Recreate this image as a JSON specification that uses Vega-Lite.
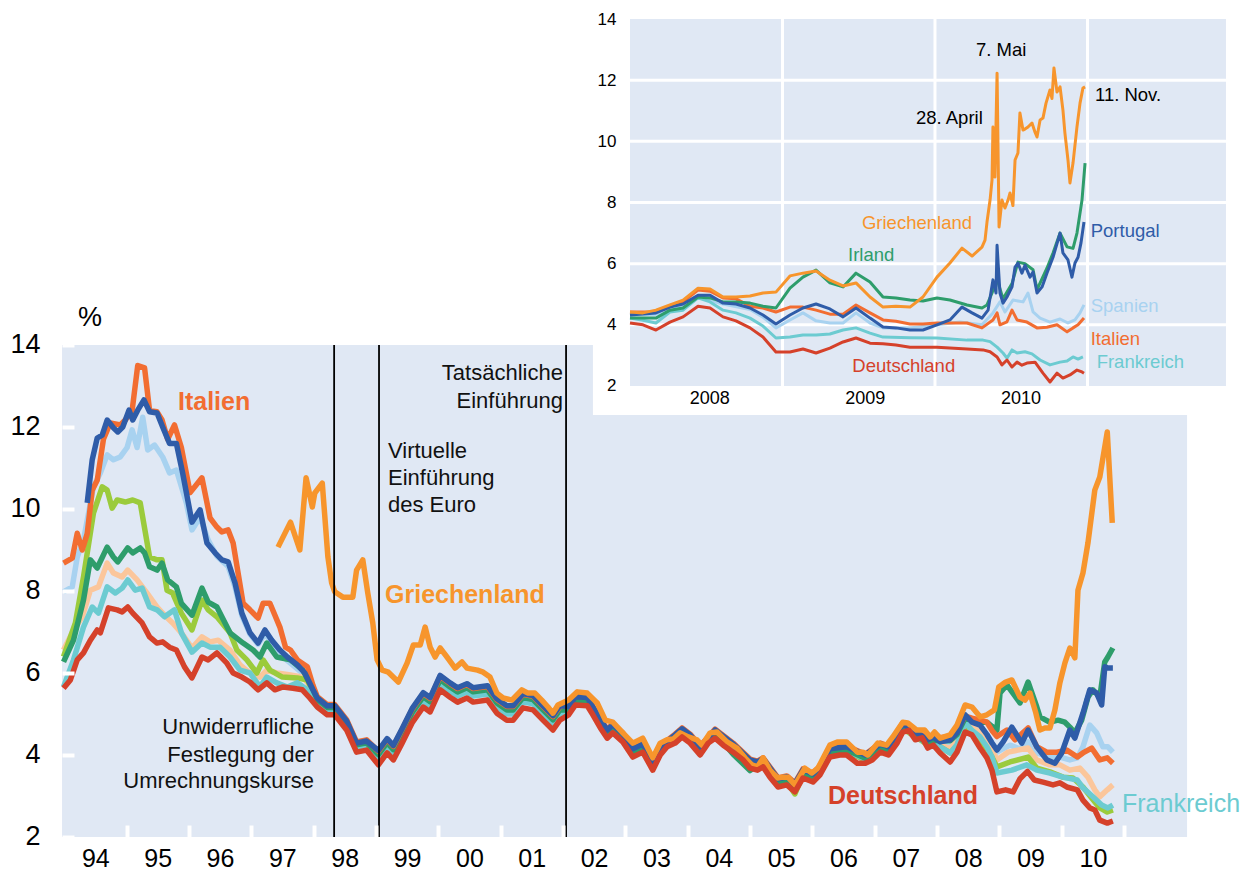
{
"$schema": "https://vega.github.io/schema/vega-lite/v6.json",
"width": 1252, "height": 872, "autosize": {"type": "none"}, "padding": 0,
"background": "#ffffff",
"config": {"view": {"stroke": null}, "font": "Liberation Sans", "axis": {"grid": false, "title": null}},
"datasets": {
"main": [
{"c":"ES","t":[1993.99,1994.13,1994.21,1994.31,1994.47,1994.58,1994.69,1994.79,1994.9,1995.01,1995.09,1995.17,1995.26,1995.34,1995.45,1995.58,1995.69,1995.8,1995.96,1996.05,1996.18,1996.31,1996.45,1996.63,1996.74,1996.85,1996.98,1997.11,1997.22,1997.33,1997.46,1997.58,1997.74,1997.86,1997.99],"v":[7.98,8.1,8.83,9.24,10.54,10.88,11.32,11.2,11.27,11.5,11.93,11.5,12.24,11.44,11.56,11.27,10.88,10.95,10.15,9.49,9.8,9.24,8.85,8.6,8.1,7.4,6.95,6.7,6.95,6.75,6.5,6.3,6.1,5.95,5.55]},
{"c":"ES","t":[1998.06,1998.22,1998.34,1998.53,1998.69,1998.85,1999.04,1999.18,1999.28,1999.42,1999.58,1999.76,1999.87,2000.03,2000.19,2000.31,2000.46,2000.56,2000.79,2000.94,2001.1,2001.2,2001.36,2001.52,2001.68,2001.84,2001.95,2002.09,2002.2,2002.39,2002.6,2002.71,2002.8,2002.96,2003.12,2003.28,2003.44,2003.56,2003.8,2003.91,2004.04,2004.2,2004.44,2004.73,2005.0,2005.12,2005.21,2005.45,2005.59,2005.72,2005.85,2006.01,2006.12,2006.28,2006.55,2006.85,2007.09,2007.22,2007.45,2007.65,2007.85,2007.94],"v":[5.37,5.18,5.18,4.81,4.27,4.32,4.06,4.35,4.18,4.59,5.08,5.47,5.35,5.89,5.71,5.59,5.69,5.59,5.64,5.32,5.15,5.15,5.45,5.4,5.15,4.91,5.15,5.13,5.37,5.35,4.81,4.56,4.69,4.47,4.1,4.22,3.78,4.15,4.44,4.59,4.44,4.15,4.56,4.22,3.83,3.78,3.86,3.37,3.42,3.25,3.59,3.49,3.66,4.1,4.15,3.95,4.22,4.15,4.71,4.52,4.32,4.39]},
{"c":"ES","t":[2008.05,2008.21,2008.32,2008.45,2008.56,2008.69,2008.8,2008.88,2008.96,2009.17,2009.33,2009.46,2009.6,2009.81,2009.97,2010.13,2010.25,2010.34,2010.45,2010.56,2010.66,2010.74,2010.82],"v":[4.3,4.28,4.45,4.85,4.75,4.6,4.4,4.25,4.07,4.24,4.15,4.32,4.05,3.95,3.95,3.88,3.93,4.2,4.73,4.54,4.2,4.2,4.07]},
{"c":"BE","t":[1993.99,1994.13,1994.29,1994.42,1994.55,1994.69,1994.79,1994.93,1995.02,1995.17,1995.33,1995.49,1995.61,1995.74,1995.88,1996.05,1996.21,1996.34,1996.47,1996.66,1996.82,1996.98,1997.14,1997.25,1997.41,1997.63,1997.83,1997.99],"v":[6.56,6.98,7.37,8.02,8.1,8.68,8.44,8.34,8.51,8.27,7.95,7.61,7.41,7.22,6.98,6.61,6.88,6.76,6.8,6.56,6.2,6.0,5.9,6.07,6.0,5.95,5.9,5.6]},
{"c":"BE","t":[1998.06,1998.22,1998.34,1998.53,1998.69,1998.85,1999.04,1999.18,1999.28,1999.42,1999.58,1999.76,1999.87,2000.03,2000.19,2000.31,2000.46,2000.56,2000.79,2000.94,2001.1,2001.2,2001.36,2001.52,2001.68,2001.84,2001.95,2002.09,2002.2,2002.39,2002.6,2002.71,2002.8,2002.96,2003.12,2003.28,2003.44,2003.56,2003.8,2003.91,2004.04,2004.2,2004.44,2004.73,2005.0,2005.12,2005.21,2005.45,2005.59,2005.72,2005.85,2006.01,2006.12,2006.28,2006.55,2006.85,2007.09,2007.22,2007.45,2007.65,2007.85,2007.94],"v":[5.32,5.13,5.13,4.76,4.22,4.27,3.98,4.27,4.1,4.51,5.0,5.39,5.27,5.81,5.63,5.51,5.61,5.51,5.56,5.24,5.07,5.07,5.37,5.32,5.07,4.83,5.07,5.12,5.36,5.34,4.8,4.55,4.68,4.46,4.09,4.21,3.77,4.14,4.43,4.58,4.43,4.14,4.55,4.21,3.82,3.77,3.85,3.36,3.41,3.24,3.58,3.48,3.65,4.09,4.14,3.94,4.21,4.14,4.7,4.51,4.31,4.38]},
{"c":"BE","t":[2008.05,2008.21,2008.32,2008.45,2008.56,2008.69,2008.8,2008.88,2008.96,2009.14,2009.46,2009.6,2009.81,2009.97,2010.13,2010.29,2010.42,2010.53,2010.61,2010.73,2010.82],"v":[4.25,4.15,4.35,4.85,4.7,4.55,4.35,4.15,3.88,4.07,4.17,3.88,3.76,3.76,3.63,3.68,3.46,3.15,2.98,3.15,3.27]},
{"c":"FI","t":[1993.99,1994.18,1994.31,1994.47,1994.61,1994.69,1994.77,1994.85,1994.98,1995.1,1995.22,1995.37,1995.49,1995.57,1995.65,1995.74,1995.88,1996.05,1996.21,1996.31,1996.45,1996.66,1996.77,1996.93,1997.09,1997.19,1997.3,1997.5,1997.74,1997.9],"v":[6.4,7.22,8.34,9.9,10.54,10.46,10.02,10.22,10.17,10.22,10.15,8.83,8.76,8.76,8.02,7.95,7.46,7.05,7.78,7.54,7.37,6.98,6.56,6.32,6.0,6.32,6.07,5.9,5.88,5.83]},
{"c":"FI","t":[1998.06,1998.22,1998.34,1998.53,1998.69,1998.85,1999.04,1999.18,1999.28,1999.42,1999.58,1999.76,1999.87,2000.03,2000.19,2000.31,2000.46,2000.56,2000.79,2000.94,2001.1,2001.2,2001.36,2001.52,2001.68,2001.84,2001.95,2002.09,2002.2,2002.39,2002.6,2002.71,2002.8,2002.96,2003.12,2003.28,2003.44,2003.56,2003.8,2003.91,2004.04,2004.2,2004.44,2004.73,2005.0,2005.12,2005.21,2005.45,2005.59,2005.72,2005.85,2006.01,2006.12,2006.28,2006.55,2006.85,2007.09,2007.22,2007.45,2007.65,2007.85,2007.94],"v":[5.29,5.1,5.1,4.73,4.19,4.24,3.96,4.25,4.08,4.49,4.98,5.37,5.25,5.79,5.61,5.49,5.59,5.49,5.54,5.22,5.05,5.05,5.35,5.3,5.05,4.81,5.05,5.06,5.3,5.28,4.74,4.49,4.62,4.4,4.03,4.15,3.71,4.08,4.37,4.52,4.37,4.08,4.49,4.15,3.76,3.71,3.79,3.3,3.35,3.05,3.52,3.42,3.59,4.03,4.08,3.88,4.15,4.08,4.64,4.45,4.25,4.32]},
{"c":"FI","t":[2008.05,2008.21,2008.32,2008.45,2008.56,2008.69,2008.8,2008.88,2008.96,2009.17,2009.46,2009.6,2009.81,2010.02,2010.18,2010.34,2010.48,2010.61,2010.73,2010.82],"v":[4.2,4.05,4.22,4.7,4.55,4.4,4.15,3.95,3.71,3.83,3.95,3.68,3.59,3.46,3.44,3.22,2.95,2.71,2.61,2.66]},
{"c":"FR","t":[1993.99,1994.15,1994.31,1994.45,1994.55,1994.69,1994.82,1994.93,1995.02,1995.14,1995.25,1995.37,1995.49,1995.61,1995.77,1995.88,1996.05,1996.21,1996.34,1996.5,1996.66,1996.82,1996.98,1997.14,1997.25,1997.41,1997.58,1997.74,1997.9,1997.99],"v":[5.66,6.32,7.12,7.61,7.46,8.1,7.95,8.07,8.27,8.02,8.07,7.61,7.54,7.37,7.54,6.98,6.51,6.73,6.63,6.63,6.39,6.07,6.0,5.66,5.9,5.76,5.66,5.76,5.59,5.4]},
{"c":"FR","t":[1998.06,1998.22,1998.34,1998.53,1998.69,1998.85,1999.04,1999.18,1999.28,1999.42,1999.58,1999.76,1999.87,2000.03,2000.19,2000.31,2000.46,2000.56,2000.79,2000.94,2001.1,2001.2,2001.36,2001.52,2001.68,2001.84,2001.95,2002.09,2002.2,2002.39,2002.6,2002.71,2002.8,2002.96,2003.12,2003.28,2003.44,2003.56,2003.8,2003.91,2004.04,2004.2,2004.44,2004.73,2005.0,2005.12,2005.21,2005.45,2005.59,2005.72,2005.85,2006.01,2006.12,2006.28,2006.55,2006.85,2007.09,2007.22,2007.45,2007.65,2007.85,2007.94],"v":[5.27,5.08,5.08,4.71,4.17,4.22,3.91,4.2,4.03,4.44,4.93,5.32,5.2,5.74,5.56,5.44,5.54,5.44,5.49,5.17,5.0,5.0,5.3,5.25,5.0,4.76,5.0,5.08,5.32,5.3,4.76,4.51,4.64,4.42,4.05,4.17,3.73,4.1,4.39,4.54,4.39,4.1,4.51,4.17,3.78,3.73,3.81,3.32,3.37,3.2,3.54,3.44,3.61,4.05,4.1,3.9,4.17,4.1,4.66,4.47,4.27,4.34]},
{"c":"FR","t":[2008.05,2008.21,2008.32,2008.45,2008.56,2008.69,2008.8,2008.88,2008.96,2009.2,2009.44,2009.6,2009.81,2010.02,2010.25,2010.34,2010.5,2010.64,2010.74,2010.82],"v":[4.2,4.05,4.25,4.8,4.6,4.44,4.2,3.95,3.56,3.63,3.76,3.63,3.56,3.46,3.39,3.2,2.98,2.78,2.71,2.78]},
{"c":"IE","t":[1993.99,1994.15,1994.31,1994.42,1994.53,1994.69,1994.79,1994.86,1995.02,1995.1,1995.22,1995.29,1995.37,1995.49,1995.57,1995.66,1995.8,1995.88,1996.05,1996.21,1996.31,1996.45,1996.66,1996.87,1997.03,1997.14,1997.25,1997.41,1997.63,1997.83,1997.99],"v":[6.27,6.8,7.78,8.76,8.56,9.07,8.83,8.71,9.05,8.93,9.05,8.93,8.59,8.51,8.68,8.27,8.1,7.7,7.41,8.07,7.73,7.61,6.98,6.73,6.56,6.39,6.73,6.39,6.32,6.07,5.6]},
{"c":"IE","t":[1998.06,1998.22,1998.34,1998.53,1998.69,1998.85,1999.04,1999.18,1999.28,1999.42,1999.58,1999.76,1999.87,2000.03,2000.19,2000.31,2000.46,2000.56,2000.79,2000.94,2001.1,2001.2,2001.36,2001.52,2001.68,2001.84,2001.95,2002.09,2002.2,2002.39,2002.6,2002.71,2002.8,2002.96,2003.12,2003.28,2003.44,2003.56,2003.8,2003.91,2004.04,2004.2,2004.44,2004.73,2005.0,2005.12,2005.21,2005.45,2005.59,2005.72,2005.85,2006.01,2006.12,2006.28,2006.55,2006.85,2007.09,2007.22,2007.45,2007.65,2007.85,2007.94],"v":[5.35,5.16,5.16,4.79,4.25,4.3,4.01,4.3,4.13,4.54,5.03,5.42,5.3,5.84,5.66,5.54,5.64,5.54,5.59,5.27,5.1,5.1,5.4,5.35,5.1,4.86,5.1,5.1,5.34,5.32,4.78,4.53,4.66,4.44,4.07,4.19,3.75,4.12,4.41,4.56,4.41,4.12,4.53,4.02,3.62,3.75,3.83,3.34,3.39,3.22,3.56,3.46,3.63,4.07,4.12,3.92,4.19,4.12,4.68,4.49,4.29,4.36]},
{"c":"IE","t":[2008.05,2008.21,2008.32,2008.45,2008.56,2008.69,2008.8,2008.88,2008.96,2009.01,2009.12,2009.33,2009.46,2009.6,2009.65,2009.81,2009.94,2010.05,2010.13,2010.21,2010.32,2010.42,2010.5,2010.61,2010.69,2010.74,2010.82],"v":[4.35,4.35,4.5,4.9,4.85,4.8,4.8,4.7,4.61,5.51,5.71,5.27,5.78,5.17,4.93,4.8,4.85,4.8,4.68,4.54,4.85,5.41,5.59,5.41,6.27,6.39,6.61]},
{"c":"IT","t":[1993.99,1994.13,1994.21,1994.29,1994.37,1994.45,1994.53,1994.63,1994.74,1994.9,1994.98,1995.09,1995.18,1995.29,1995.37,1995.49,1995.57,1995.66,1995.77,1995.88,1996.02,1996.21,1996.34,1996.45,1996.53,1996.63,1996.71,1996.87,1996.98,1997.11,1997.19,1997.3,1997.46,1997.55,1997.63,1997.74,1997.9,1997.99],"v":[8.68,8.8,9.41,9.0,9.4,10.46,10.7,11.7,12.1,12.05,12.17,12.4,13.5,13.44,12.4,12.37,12.17,11.7,12.05,11.5,10.4,10.76,9.78,9.56,9.44,9.49,9.17,7.7,7.54,7.34,7.7,7.7,7.12,6.63,6.56,6.32,6.15,5.7]},
{"c":"IT","t":[1998.06,1998.22,1998.34,1998.53,1998.69,1998.85,1999.04,1999.18,1999.28,1999.42,1999.58,1999.76,1999.87,2000.03,2000.19,2000.31,2000.46,2000.56,2000.79,2000.94,2001.1,2001.2,2001.36,2001.52,2001.68,2001.84,2001.95,2002.09,2002.2,2002.39,2002.6,2002.71,2002.8,2002.96,2003.12,2003.28,2003.44,2003.56,2003.8,2003.91,2004.04,2004.2,2004.44,2004.73,2005.0,2005.12,2005.21,2005.45,2005.59,2005.72,2005.85,2006.01,2006.12,2006.28,2006.55,2006.85,2007.09,2007.22,2007.45,2007.65,2007.85,2007.94],"v":[5.42,5.23,5.23,4.86,4.32,4.37,4.09,4.38,4.21,4.62,5.11,5.5,5.38,5.92,5.74,5.62,5.72,5.62,5.67,5.35,5.18,5.18,5.48,5.43,5.18,4.94,5.18,5.2,5.44,5.42,4.88,4.63,4.76,4.54,4.17,4.29,3.85,4.22,4.51,4.66,4.51,4.22,4.63,4.29,3.9,3.85,3.93,3.44,3.49,3.32,3.66,3.56,3.73,4.17,4.22,4.02,4.29,4.22,4.78,4.59,4.39,4.46]},
{"c":"IT","t":[2008.05,2008.21,2008.32,2008.45,2008.56,2008.69,2008.8,2008.88,2008.96,2009.12,2009.25,2009.46,2009.6,2009.76,2009.92,2010.08,2010.25,2010.34,2010.48,2010.61,2010.73,2010.82],"v":[4.42,4.45,4.6,4.95,4.9,4.85,4.8,4.6,4.45,4.61,4.37,4.66,4.2,4.07,4.07,4.12,3.95,4.05,4.17,3.88,3.93,3.8]},
{"c":"PT","t":[1994.37,1994.45,1994.53,1994.61,1994.69,1994.79,1994.86,1994.94,1995.04,1995.1,1995.18,1995.28,1995.37,1995.49,1995.58,1995.69,1995.8,1995.9,1996.05,1996.18,1996.29,1996.42,1996.53,1996.63,1996.74,1996.85,1996.98,1997.11,1997.22,1997.33,1997.46,1997.58,1997.74,1997.86,1997.99],"v":[10.15,11.2,11.73,11.8,12.17,11.98,11.88,12.0,12.41,12.17,12.41,12.66,12.37,12.34,12.0,11.6,11.6,10.88,9.68,9.98,9.17,8.93,8.76,8.71,8.2,7.46,6.98,6.73,7.05,6.8,6.56,6.39,6.2,6.0,5.59]},
{"c":"PT","t":[1998.06,1998.22,1998.34,1998.53,1998.69,1998.85,1999.04,1999.18,1999.28,1999.42,1999.58,1999.76,1999.87,2000.03,2000.19,2000.31,2000.46,2000.56,2000.79,2000.94,2001.1,2001.2,2001.36,2001.52,2001.68,2001.84,2001.95,2002.09,2002.2,2002.39,2002.6,2002.71,2002.8,2002.96,2003.12,2003.28,2003.44,2003.56,2003.8,2003.91,2004.04,2004.2,2004.44,2004.73,2005.0,2005.12,2005.21,2005.45,2005.59,2005.72,2005.85,2006.01,2006.12,2006.28,2006.55,2006.85,2007.09,2007.22,2007.45,2007.65,2007.85,2007.94],"v":[5.39,5.2,5.2,4.83,4.29,4.34,4.11,4.4,4.23,4.64,5.13,5.52,5.4,5.94,5.76,5.64,5.74,5.64,5.69,5.37,5.2,5.2,5.5,5.45,5.2,4.96,5.2,5.18,5.42,5.4,4.86,4.61,4.74,4.52,4.15,4.27,3.83,4.2,4.49,4.64,4.49,4.2,4.61,4.27,3.88,3.83,3.91,3.42,3.47,3.3,3.64,3.54,3.71,4.15,4.2,4.0,4.27,4.2,4.76,4.57,4.37,4.44]},
{"c":"PT","t":[2008.05,2008.21,2008.32,2008.45,2008.56,2008.69,2008.8,2008.88,2008.96,2009.06,2009.2,2009.36,2009.46,2009.6,2009.76,2009.89,2010.0,2010.13,2010.21,2010.34,2010.45,2010.56,2010.64,2010.69,2010.74,2010.82],"v":[4.32,4.37,4.54,4.98,4.8,4.73,4.5,4.3,4.12,4.32,4.68,4.29,4.61,4.2,3.88,3.8,4.05,4.61,4.41,5.02,5.59,5.51,5.22,6.15,6.12,6.12]},
{"c":"GR","t":[1997.43,1997.63,1997.78,1997.88,1997.98,1998.02,1998.14,1998.23,1998.29,1998.34,1998.47,1998.63,1998.69,1998.79,1998.87,1998.95,1999.02,1999.1,1999.2,1999.36,1999.5,1999.6,1999.71,1999.79,1999.87,1999.95,2000.03,2000.14,2000.27,2000.38,2000.46,2000.63,2000.72,2000.83,2000.94,2001.04,2001.18,2001.34,2001.44,2001.55,2001.66,2001.76,2001.84,2001.92],"v":[9.07,9.68,9.0,10.76,10.05,10.39,10.63,8.83,8.2,7.98,7.85,7.85,8.51,8.76,7.95,7.22,6.32,6.07,6.02,5.78,6.24,6.68,6.68,7.12,6.63,6.39,6.61,6.39,6.12,6.27,6.12,6.07,6.02,5.9,5.51,5.39,5.34,5.59,5.51,5.51,5.34,5.17,5.02,5.22]},
{"c":"GR","t":[2002.09,2002.23,2002.39,2002.55,2002.68,2002.8,2002.96,2003.12,2003.28,2003.44,2003.56,2003.67,2003.77,2003.88,2004.01,2004.15,2004.23,2004.36,2004.47,2004.63,2004.79,2004.92,2005.03,2005.12,2005.21,2005.32,2005.44,2005.53,2005.61,2005.72,2005.88,2005.99,2006.09,2006.28,2006.41,2006.55,2006.72,2006.81,2006.89,2007.05,2007.19,2007.29,2007.45,2007.53,2007.67,2007.8,2007.89,2007.96],"v":[5.34,5.54,5.51,5.27,4.85,4.8,4.54,4.29,4.41,3.93,4.29,4.37,4.39,4.54,4.44,4.37,4.24,4.54,4.56,4.32,4.17,3.93,3.76,3.71,3.93,3.63,3.44,3.46,3.46,3.27,3.68,3.56,3.68,4.24,4.32,4.32,4.07,4.07,4.0,4.29,4.24,4.44,4.8,4.78,4.61,4.61,4.44,4.56]},
{"c":"GR","t":[2008.05,2008.21,2008.32,2008.45,2008.56,2008.69,2008.8,2008.92,2008.99,2009.1,2009.2,2009.33,2009.41,2009.49,2009.58,2009.65,2009.73,2009.81,2009.89,2009.97,2010.05,2010.13,2010.21,2010.26,2010.34,2010.42,2010.53,2010.61,2010.73,2010.81],"v":[4.41,4.49,4.73,5.22,5.17,4.93,4.98,5.1,5.66,5.78,5.83,5.41,5.34,5.51,5.05,4.61,4.66,4.66,5.1,5.76,6.24,6.61,6.37,8.02,8.44,9.17,10.46,10.78,11.88,9.66]},
{"c":"DE","t":[1993.99,1994.1,1994.21,1994.31,1994.42,1994.53,1994.58,1994.71,1994.85,1994.93,1995.02,1995.1,1995.25,1995.37,1995.49,1995.58,1995.69,1995.8,1995.93,1996.05,1996.21,1996.31,1996.45,1996.61,1996.71,1996.85,1996.98,1997.11,1997.25,1997.38,1997.51,1997.67,1997.82,1997.94],"v":[5.63,5.83,6.32,6.49,6.8,7.05,6.98,7.59,7.54,7.49,7.61,7.46,7.22,6.88,6.73,6.76,6.63,6.56,6.15,5.88,6.39,6.32,6.49,6.24,6.0,5.9,5.78,5.59,5.76,5.59,5.66,5.63,5.59,5.39]},
{"c":"DE","t":[1998.06,1998.22,1998.34,1998.53,1998.69,1998.85,1999.04,1999.18,1999.28,1999.42,1999.58,1999.76,1999.87,2000.03,2000.19,2000.31,2000.46,2000.56,2000.79,2000.94,2001.1,2001.2,2001.36,2001.52,2001.68,2001.84,2001.95,2002.09,2002.2,2002.39,2002.48,2002.6,2002.71,2002.8,2002.96,2003.12,2003.28,2003.44,2003.56,2003.67,2003.8,2003.91,2004.04,2004.2,2004.33,2004.44,2004.57,2004.73,2004.89,2005.0,2005.12,2005.21,2005.32,2005.45,2005.59,2005.72,2005.85,2006.01,2006.12,2006.28,2006.44,2006.55,2006.72,2006.85,2006.96,2007.09,2007.22,2007.36],"v":[5.17,4.98,4.98,4.61,4.07,4.12,3.76,4.05,3.88,4.29,4.78,5.17,5.05,5.59,5.41,5.29,5.39,5.29,5.34,5.02,4.85,4.85,5.15,5.1,4.85,4.61,4.85,4.98,5.22,5.2,4.98,4.66,4.41,4.54,4.32,3.95,4.07,3.63,4.0,4.2,4.29,4.44,4.29,4.0,4.29,4.41,4.24,4.07,3.88,3.68,3.63,3.71,3.46,3.22,3.27,3.1,3.44,3.34,3.51,3.95,4.0,4.0,3.8,3.8,3.88,4.07,4.0,4.29]},
{"c":"DE","t":[2007.45,2007.55,2007.65,2007.76,2007.85,2007.94,2008.05,2008.21,2008.32,2008.45,2008.56,2008.69,2008.8,2008.88,2008.96,2009.1,2009.22,2009.33,2009.45,2009.56,2009.7,2009.86,2009.97,2010.08,2010.25,2010.34,2010.45,2010.53,2010.61,2010.73,2010.82],"v":[4.56,4.6,4.37,4.42,4.17,4.24,4.05,3.83,4.07,4.56,4.49,4.17,3.93,3.63,3.1,3.15,3.1,3.42,3.6,3.39,3.34,3.27,3.32,3.22,3.15,2.9,2.71,2.66,2.41,2.34,2.39]}
],
"inset": [
{"c":"ES","t":[2008.0,2008.17,2008.348,2008.446,2008.61,2008.787,2008.872,2008.957,2009.049,2009.134,2009.22,2009.311,2009.397,2009.482,2009.574,2009.659,2009.836,2010.013,2010.164,2010.308,2010.38,2010.426,2010.459,2010.511,2010.577,2010.61,2010.643,2010.689,2010.754,2010.82,2010.872,2010.918,2010.951,2010.977],"v":[4.32,4.35,4.6,4.9,4.68,4.5,4.25,3.9,4.16,4.39,4.13,4.06,4.06,4.39,4.06,3.9,3.9,4.0,4.09,4.0,4.39,4.75,4.42,4.81,4.75,5.04,4.42,4.22,4.09,4.19,4.06,4.16,4.39,4.65]},
{"c":"FR","t":[2008.0,2008.085,2008.17,2008.262,2008.348,2008.446,2008.525,2008.61,2008.695,2008.787,2008.872,2008.957,2009.049,2009.134,2009.22,2009.311,2009.397,2009.482,2009.574,2009.659,2009.836,2010.013,2010.21,2010.315,2010.361,2010.407,2010.446,2010.472,2010.505,2010.538,2010.59,2010.636,2010.689,2010.754,2010.82,2010.866,2010.905,2010.938,2010.97],"v":[4.22,4.15,4.06,4.42,4.48,4.88,4.75,4.48,4.39,4.22,3.96,3.57,3.6,3.67,3.67,3.7,3.83,3.9,3.73,3.6,3.58,3.57,3.5,3.5,3.45,3.27,3.08,2.91,3.18,3.08,3.12,3.05,2.85,2.69,2.78,2.82,2.95,2.88,2.95]},
{"c":"IT","t":[2008.0,2008.17,2008.348,2008.446,2008.525,2008.61,2008.695,2008.787,2008.872,2008.957,2009.049,2009.134,2009.22,2009.311,2009.397,2009.482,2009.574,2009.659,2009.744,2009.836,2009.921,2010.013,2010.21,2010.308,2010.38,2010.407,2010.426,2010.472,2010.505,2010.538,2010.603,2010.669,2010.734,2010.8,2010.866,2010.905,2010.938,2010.977],"v":[4.42,4.42,4.75,5.14,5.1,4.88,4.85,4.61,4.55,4.42,4.58,4.58,4.48,4.35,4.35,4.65,4.39,4.16,4.12,4.03,4.03,4.06,4.06,3.9,4.16,4.39,4.0,4.1,4.48,4.16,4.09,3.9,3.92,4.0,3.77,3.9,4.0,4.22]},
{"c":"DE","t":[2008.0,2008.085,2008.17,2008.262,2008.348,2008.446,2008.525,2008.61,2008.695,2008.787,2008.872,2008.957,2009.049,2009.134,2009.22,2009.311,2009.397,2009.482,2009.574,2009.659,2009.744,2009.836,2010.013,2010.21,2010.315,2010.361,2010.407,2010.439,2010.472,2010.505,2010.538,2010.57,2010.603,2010.656,2010.708,2010.754,2010.8,2010.839,2010.885,2010.931,2010.964,2010.977],"v":[4.06,4.0,3.83,4.09,4.26,4.61,4.55,4.26,4.13,3.9,3.6,3.11,3.11,3.21,3.08,3.24,3.44,3.57,3.4,3.38,3.34,3.27,3.27,3.21,3.18,3.12,2.95,2.69,2.85,2.62,2.78,2.68,2.75,2.78,2.42,2.13,2.42,2.26,2.36,2.52,2.46,2.42]},
{"c":"IE","t":[2008.0,2008.17,2008.262,2008.348,2008.446,2008.525,2008.61,2008.695,2008.787,2008.872,2008.957,2009.049,2009.134,2009.22,2009.311,2009.397,2009.482,2009.574,2009.659,2009.744,2009.836,2009.921,2010.013,2010.098,2010.21,2010.308,2010.341,2010.374,2010.407,2010.446,2010.505,2010.544,2010.59,2010.643,2010.669,2010.734,2010.774,2010.82,2010.866,2010.905,2010.931,2010.964,2010.984],"v":[4.22,4.22,4.48,4.55,4.91,4.88,4.75,4.75,4.71,4.61,4.55,5.2,5.56,5.79,5.37,5.24,5.69,5.4,4.91,4.88,4.81,4.78,4.88,4.81,4.65,4.55,4.65,5.04,5.5,4.85,5.35,6.05,6.0,5.8,5.15,5.85,6.35,7.0,6.55,6.5,7.0,8.08,9.29]},
{"c":"PT","t":[2008.0,2008.17,2008.262,2008.348,2008.446,2008.525,2008.61,2008.695,2008.787,2008.872,2008.957,2009.049,2009.134,2009.22,2009.311,2009.397,2009.482,2009.574,2009.659,2009.744,2009.836,2009.921,2010.013,2010.098,2010.177,2010.243,2010.308,2010.348,2010.38,2010.4,2010.407,2010.426,2010.446,2010.472,2010.505,2010.525,2010.544,2010.57,2010.59,2010.623,2010.643,2010.669,2010.702,2010.734,2010.774,2010.82,2010.839,2010.872,2010.898,2010.918,2010.938,2010.957,2010.977],"v":[4.32,4.39,4.58,4.68,4.97,4.97,4.71,4.68,4.55,4.32,4.03,4.32,4.55,4.68,4.52,4.26,4.55,4.22,3.93,3.9,3.83,3.83,4.0,4.16,4.58,4.39,4.22,4.48,5.47,5.04,6.6,5.04,4.71,4.91,5.24,5.89,6.02,5.69,5.95,5.56,5.73,5.04,5.24,5.69,6.21,7.0,6.35,6.12,5.56,6.02,6.21,6.67,7.36]},
{"c":"GR","t":[2008.0,2008.085,2008.17,2008.262,2008.348,2008.446,2008.525,2008.61,2008.695,2008.787,2008.872,2008.957,2009.049,2009.134,2009.22,2009.311,2009.397,2009.482,2009.574,2009.659,2009.744,2009.836,2009.921,2010.013,2010.098,2010.177,2010.243,2010.308,2010.328,2010.341,2010.361,2010.374,2010.38,2010.393,2010.407,2010.42,2010.439,2010.459,2010.479,2010.492,2010.511,2010.525,2010.544,2010.557,2010.577,2010.59,2010.61,2010.636,2010.656,2010.669,2010.689,2010.708,2010.728,2010.754,2010.767,2010.78,2010.8,2010.82,2010.839,2010.852,2010.872,2010.885,2010.905,2010.931,2010.951,2010.97,2010.984],"v":[4.42,4.39,4.48,4.65,4.81,5.2,5.17,4.91,4.91,4.94,5.04,5.07,5.6,5.69,5.76,5.46,5.27,5.37,4.91,4.58,4.61,4.58,4.91,5.56,6.02,6.51,6.25,6.54,6.77,7.36,8.08,8.74,10.47,8.83,12.23,7.2,8.08,7.82,8.08,8.31,7.9,9.39,9.62,10.93,10.37,10.4,10.47,10.6,10.3,10.14,10.7,10.76,11.25,11.68,11.4,12.4,11.61,11.78,11.02,10.27,9.39,8.64,9.29,10.47,11.25,11.74,11.78]}
]
},
"layer": [
{
"encoding": {
"x": {"field": "t", "type": "quantitative", "scale": {"domain": [1992.9711, 2013.0513], "nice": false, "zero": false},
 "axis": {"orient": "bottom", "offset": -35, "values": [1995,1996,1997,1998,1999,2000,2001,2002,2003,2004,2005,2006,2007,2008,2009,2010,2011], "labelExpr": "slice(toString(datum.value - 1), 2)", "labelOffset": -31.2, "tickSize": -12, "tickColor": "#ffffff", "tickWidth": 4, "domain": false, "grid": false, "labelFontSize": 25, "labelColor": "#000000", "labelPadding": 21, "labelFlush": false, "labelOverlap": false, "zindex": 1, "title": null}},
"y": {"field": "v", "type": "quantitative", "scale": {"domain": [1.14634, 22.41463], "nice": false, "zero": false},
 "axis": {"orient": "left", "offset": -62, "values": [2,4,6,8,10,12,14], "tickSize": -12, "tickColor": "#ffffff", "tickWidth": 4, "domain": false, "grid": false, "labelFontSize": 27, "labelColor": "#000000", "labelPadding": 34, "labelFlush": false, "labelOverlap": false, "zindex": 1, "title": null}}
},
"layer": [
{"data": {"values": [{"t": 1993.966, "t2": 2012.01, "v": 2, "v2": 14}]}, "mark": {"type": "rect", "color": "#e0e8f4"}, "encoding": {"x2": {"field": "t2"}, "y2": {"field": "v2"}}},
{"data": {"name": "main"}, "transform": [{"flatten": ["t", "v"]}], "mark": {"type": "line", "strokeWidth": 5.5, "strokeJoin": "round"},
 "encoding": {"color": {"field": "c", "type": "nominal", "legend": null, "scale": {"domain": ["IT","PT","ES","GR","IE","FR","FI","BE","DE"], "range": ["#f26d31","#2f5ca8","#a8d2f0","#f7952c","#2e9d6b","#6ccbd1","#9bcb3c","#fbc69b","#d5412a"]}}}},
{"data": {"values": [{"t": 1998.33, "v": 2, "v2": 14}, {"t": 1999.05, "v": 2, "v2": 14}, {"t": 2002.05, "v": 2, "v2": 14}]}, "mark": {"type": "rule", "color": "#000000", "strokeWidth": 1.8}, "encoding": {"y2": {"field": "v2"}}},
{"data": {"values": [{"t": 1995.826, "v": 12.61, "label": "Italien", "c": "IT"}, {"t": 1999.146, "v": 7.9, "label": "Griechenland", "c": "GR"}, {"t": 2006.251, "v": 3.0, "label": "Deutschland", "c": "DE"}]},
 "mark": {"type": "text", "align": "left", "baseline": "middle", "fontSize": 25, "fontWeight": "bold"},
 "encoding": {"text": {"field": "label"}, "color": {"field": "c", "type": "nominal", "legend": null}}},
{"data": {"values": [{"t": 2010.966, "v": 2.805, "label": "Frankreich", "c": "FR"}]},
 "mark": {"type": "text", "align": "left", "baseline": "middle", "fontSize": 25},
 "encoding": {"text": {"field": "label"}, "color": {"field": "c", "type": "nominal", "legend": null}}},
{"data": {"values": [{"t": 2002.0, "v": 13.317, "label": "Tatsächliche"}, {"t": 2002.0, "v": 12.634, "label": "Einführung"}, {"t": 1998.007, "v": 4.683, "label": "Unwiderrufliche"}, {"t": 1998.007, "v": 4.0, "label": "Festlegung der"}, {"t": 1998.007, "v": 3.366, "label": "Umrechnungskurse"}]},
 "mark": {"type": "text", "align": "right", "baseline": "middle", "fontSize": 22, "color": "#111111"},
 "encoding": {"text": {"field": "label"}}},
{"data": {"values": [{"t": 1999.194, "v": 11.415, "label": "Virtuelle"}, {"t": 1999.194, "v": 10.756, "label": "Einführung"}, {"t": 1999.194, "v": 10.098, "label": "des Euro"}]},
 "mark": {"type": "text", "align": "left", "baseline": "middle", "fontSize": 22, "color": "#111111"},
 "encoding": {"text": {"field": "label"}}},
{"data": {"values": [{"t": 1994.415, "v": 14.66, "label": "%"}]},
 "mark": {"type": "text", "align": "center", "baseline": "middle", "fontSize": 27, "color": "#000000"},
 "encoding": {"text": {"field": "label"}}}
]
},
{
"encoding": {
"x": {"field": "t", "type": "quantitative", "scale": {"domain": [2003.8689, 2012.0787], "nice": false, "zero": false},
 "axis": {"orient": "bottom", "offset": -486, "values": [2008.52, 2009.54, 2010.56], "labelExpr": "toString(floor(datum.value))", "ticks": false, "tickSize": 0, "domain": false, "grid": false, "labelFontSize": 18, "labelColor": "#000000", "labelPadding": 3, "labelFlush": false, "labelOverlap": false, "zindex": 1, "title": null}},
"y": {"field": "v", "type": "quantitative", "scale": {"domain": [-13.8913, 14.6213], "nice": false, "zero": false},
 "axis": {"orient": "left", "offset": -630, "values": [2,4,6,8,10,12,14], "ticks": false, "tickSize": 0, "domain": false, "grid": false, "labelFontSize": 17, "labelColor": "#000000", "labelPadding": 14, "labelFlush": false, "labelOverlap": false, "zindex": 1, "title": null}}
},
"layer": [
{"data": {"values": [{"t": 2007.757, "t2": 2011.95, "v": 1.052, "v2": 14.62}]}, "mark": {"type": "rect", "color": "#ffffff"}, "encoding": {"x2": {"field": "t2"}, "y2": {"field": "v2"}}},
{"data": {"values": [{"t": 2008.0, "t2": 2011.908, "v": 2, "v2": 14}]}, "mark": {"type": "rect", "color": "#e0e8f4"}, "encoding": {"x2": {"field": "t2"}, "y2": {"field": "v2"}}},
{"data": {"values": [{"t": 2009, "v": 2, "v2": 14}, {"t": 2010, "v": 2, "v2": 14}, {"t": 2011, "v": 2, "v2": 14}]}, "mark": {"type": "rule", "color": "#ffffff", "strokeWidth": 3}, "encoding": {"y2": {"field": "v2"}}},
{"data": {"values": [{"t": 2008.0, "t2": 2011.908, "v": 4}, {"t": 2008.0, "t2": 2011.908, "v": 6}, {"t": 2008.0, "t2": 2011.908, "v": 8}, {"t": 2008.0, "t2": 2011.908, "v": 10}, {"t": 2008.0, "t2": 2011.908, "v": 12}]}, "mark": {"type": "rule", "color": "#ffffff", "strokeWidth": 3}, "encoding": {"x2": {"field": "t2"}}},
{"data": {"name": "inset"}, "transform": [{"flatten": ["t", "v"]}], "mark": {"type": "line", "strokeWidth": 3, "strokeJoin": "round"},
 "encoding": {"color": {"field": "c", "type": "nominal", "legend": null}}},
{"data": {"values": [{"t": 2010.269, "v": 12.99, "label": "7. Mai"}, {"t": 2009.875, "v": 10.763, "label": "28. April"}, {"t": 2011.049, "v": 11.515, "label": "11. Nov."}]},
 "mark": {"type": "text", "align": "left", "baseline": "middle", "fontSize": 18.5, "color": "#000000"},
 "encoding": {"text": {"field": "label"}}},
{"data": {"values": [{"t": 2009.521, "v": 7.33, "label": "Griechenland", "c": "GR"}, {"t": 2009.43, "v": 6.283, "label": "Irland", "c": "IE"}, {"t": 2009.458, "v": 2.654, "label": "Deutschland", "c": "DE"}, {"t": 2011.021, "v": 7.078, "label": "Portugal", "c": "PT"}, {"t": 2011.021, "v": 4.616, "label": "Spanien", "c": "ES"}, {"t": 2011.021, "v": 3.537, "label": "Italien", "c": "IT"}, {"t": 2011.06, "v": 2.795, "label": "Frankreich", "c": "FR"}]},
 "mark": {"type": "text", "align": "left", "baseline": "middle", "fontSize": 18.5},
 "encoding": {"text": {"field": "label"}, "color": {"field": "c", "type": "nominal", "legend": null}}}
]
}
],
"resolve": {"scale": {"x": "independent", "y": "independent"}, "axis": {"x": "independent", "y": "independent"}}
}
